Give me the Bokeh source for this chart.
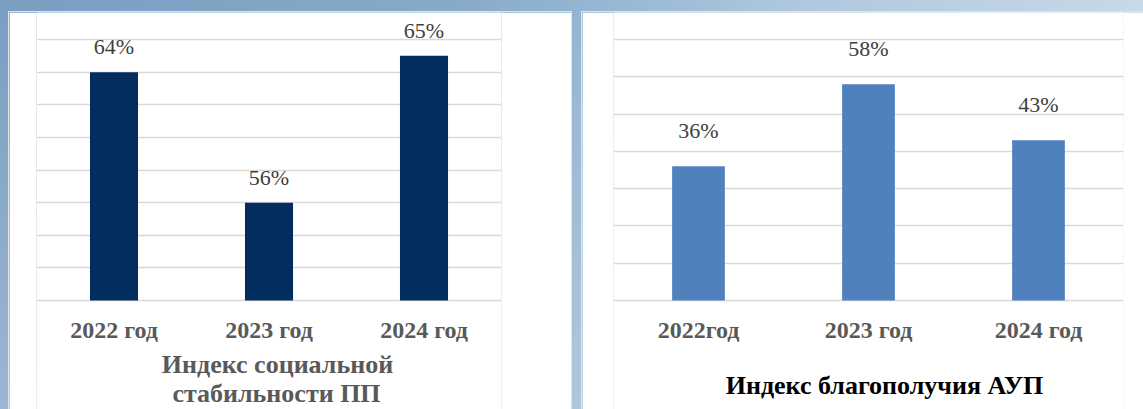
from bokeh.plotting import figure
from bokeh.layouts import row
from bokeh.models import ColumnDataSource, LabelSet, Label, FixedTicker, Range1d
from bokeh.core.properties import value
from bokeh.embed import file_html
from bokeh.resources import INLINE

# ---- data ----
years_left = ["2022 год", "2023 год", "2024 год"]
values_left = [64, 56, 65]
ticks_left = [50, 52, 54, 56, 58, 60, 62, 64, 66]
title_left = ["Индекс социальной", "стабильности ПП"]

years_right = ["2022год", "2023 год", "2024 год"]
values_right = [36, 58, 43]
ticks_right = [0, 10, 20, 30, 40, 50, 60, 70]
title_right = "Индекс благополучия АУП"

SERIF = "Liberation Serif"
H = 397          # panel height (page y 12..409)
GRID_TOP = 27    # px from panel top to highest gridline
GRID_BOT = 288   # px from panel top to baseline


def make_panel(cats, vals, ticks, bar_color, width, lr, label_gap, margin):
    lo, hi = ticks[0], ticks[-1]
    ppu = (GRID_BOT - GRID_TOP) / (hi - lo)
    y_hi = hi + GRID_TOP / ppu
    y_lo = lo - (H - GRID_BOT) / ppu
    src = ColumnDataSource(dict(cat=cats, val=vals, lab=[f"{v}%" for v in vals],
                                base=[lo] * len(cats)))
    p = figure(x_range=cats, y_range=Range1d(y_lo, y_hi),
               width=width, height=H, output_backend="svg", toolbar_location=None,
               min_border_left=lr[0], min_border_right=lr[1],
               min_border_top=0, min_border_bottom=0,
               border_fill_color="white", background_fill_color="white",
               outline_line_color=None, margin=margin)
    p.vbar(x="cat", top="val", bottom=lo, width=0.31, source=src,
           fill_color=bar_color, line_color=None)
    p.add_layout(LabelSet(x="cat", y="val", text="lab", source=src, y_offset=label_gap,
                          text_align="center", text_baseline="alphabetic",
                          text_font=SERIF, text_font_size="22px", text_color="#404040"))
    # category labels under the baseline
    p.text(x="cat", y="base", text="cat", source=src, y_offset=29,
           text_align="center", text_baseline="alphabetic",
           text_font=value(SERIF), text_font_style="bold", text_font_size="24px",
           text_color="#595959")
    p.xaxis.visible = False
    p.yaxis.visible = False
    p.xgrid.visible = False
    p.ygrid.ticker = FixedTicker(ticks=ticks)
    p.ygrid.grid_line_color = "#d9d9d9"
    p.ygrid.grid_line_width = 1.4
    return p


p1 = make_panel(years_left, values_left, ticks_left, "#042D5F", 562, (27, 70), 18, (12, 0, 0, 9))
p1.add_layout(Label(x=241, y=45, x_units="screen", y_units="screen", text=title_left[0],
                    text_align="center", text_baseline="alphabetic", text_font=SERIF,
                    text_font_style="bold", text_font_size="26px", text_color="#595959"))
p1.add_layout(Label(x=240, y=16, x_units="screen", y_units="screen", text=title_left[1],
                    text_align="center", text_baseline="alphabetic", text_font=SERIF,
                    text_font_style="bold", text_font_size="26px", text_color="#595959"))

p2 = make_panel(years_right, values_right, ticks_right, "#4F81BD", 561, (31, 20), 28, (12, 0, 0, 11))
p2.add_layout(Label(x=271, y=24, x_units="screen", y_units="screen", text=title_right,
                    text_align="center", text_baseline="alphabetic", text_font=SERIF,
                    text_font_style="bold", text_font_size="26px", text_color="#000000"))

for p in (p1, p2):
    p.styles = {"box-shadow": "0 0 0 1px #dde3ea"}

layout = row(p1, p2, styles={
    "background": "linear-gradient(to bottom, rgba(255,255,255,0) 0%, rgba(255,255,255,0.25) 100%), "
                  "linear-gradient(to right, #7a9ec1 0%, #88aac9 40%, #93b4d1 50%, #afc8de 70%, #c8d9e8 100%)",
    "width": "1143px", "height": "409px"})

open("out.html", "w").write(file_html(layout, INLINE))
